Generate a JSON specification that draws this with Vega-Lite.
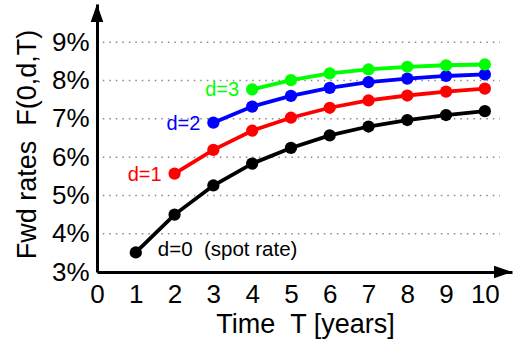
{
  "$schema": "https://vega.github.io/schema/vega-lite/v6.json",
  "width": 415,
  "height": 268,
  "autosize": "none",
  "padding": {"left": 97, "top": 4, "right": 2, "bottom": 69},
  "config": {
    "font": "Liberation Sans",
    "view": {"stroke": null},
    "axis": {"labelFont": "Liberation Sans", "titleFont": "Liberation Sans", "labelColor": "black", "titleColor": "black", "titleFontWeight": "normal"}
  },
  "datasets": {
    "rates": [
      {"d": 0, "T": 1, "F": 3.51, "label": "d=0\u00a0\u00a0(spot rate)"},
      {"d": 0, "T": 2, "F": 4.50},
      {"d": 0, "T": 3, "F": 5.26},
      {"d": 0, "T": 4, "F": 5.83},
      {"d": 0, "T": 5, "F": 6.24},
      {"d": 0, "T": 6, "F": 6.57},
      {"d": 0, "T": 7, "F": 6.80},
      {"d": 0, "T": 8, "F": 6.97},
      {"d": 0, "T": 9, "F": 7.10},
      {"d": 0, "T": 10, "F": 7.20},
      {"d": 1, "T": 2, "F": 5.57, "label": "d=1"},
      {"d": 1, "T": 3, "F": 6.19},
      {"d": 1, "T": 4, "F": 6.69},
      {"d": 1, "T": 5, "F": 7.03},
      {"d": 1, "T": 6, "F": 7.29},
      {"d": 1, "T": 7, "F": 7.48},
      {"d": 1, "T": 8, "F": 7.61},
      {"d": 1, "T": 9, "F": 7.71},
      {"d": 1, "T": 10, "F": 7.79},
      {"d": 2, "T": 3, "F": 6.90, "label": "d=2"},
      {"d": 2, "T": 4, "F": 7.32},
      {"d": 2, "T": 5, "F": 7.60},
      {"d": 2, "T": 6, "F": 7.81},
      {"d": 2, "T": 7, "F": 7.96},
      {"d": 2, "T": 8, "F": 8.05},
      {"d": 2, "T": 9, "F": 8.12},
      {"d": 2, "T": 10, "F": 8.16},
      {"d": 3, "T": 4, "F": 7.77, "label": "d=3"},
      {"d": 3, "T": 5, "F": 8.01},
      {"d": 3, "T": 6, "F": 8.19},
      {"d": 3, "T": 7, "F": 8.29},
      {"d": 3, "T": 8, "F": 8.36},
      {"d": 3, "T": 9, "F": 8.40},
      {"d": 3, "T": 10, "F": 8.42}
    ]
  },
  "layer": [
    {
      "data": {"values": [{"g": 4}, {"g": 5}, {"g": 6}, {"g": 7}, {"g": 8}, {"g": 9}]},
      "mark": {"type": "rule", "color": "#888888", "strokeWidth": 1.5, "strokeDash": [1.5, 5]},
      "encoding": {
        "y": {
          "field": "g", "type": "quantitative",
          "scale": {"domain": [3, 10], "nice": false, "zero": false},
          "axis": {
            "values": [3, 4, 5, 6, 7, 8, 9],
            "ticks": false, "tickSize": 0, "grid": false, "labelFlush": false,
            "domainColor": "black", "domainWidth": 3,
            "labelFontSize": 26, "labelPadding": 8,
            "labelExpr": "datum.value + '%'",
            "title": "Fwd rates\u00a0\u00a0F(0,d,T)",
            "titleFontSize": 27, "titleX": -62, "titleY": 140,
            "titleAngle": -90, "titleBaseline": "alphabetic", "titleAlign": "center"
          }
        },
        "x": {
          "datum": 0.15, "type": "quantitative",
          "scale": {"domain": [0, 10.7], "nice": false, "zero": false},
          "axis": {
            "values": [0, 1, 2, 3, 4, 5, 6, 7, 8, 9, 10],
            "ticks": false, "tickSize": 0, "grid": false, "labelFlush": false,
            "domainColor": "black", "domainWidth": 3,
            "labelFontSize": 26, "labelPadding": 9,
            "title": "Time\u00a0\u00a0T [years]",
            "titleFontSize": 27, "titleX": 208, "titleY": 60,
            "titleBaseline": "alphabetic", "titleAlign": "center"
          }
        },
        "x2": {"datum": 10.39}
      }
    },
    {
      "data": {"name": "rates"},
      "mark": {"type": "line", "strokeWidth": 3.8, "point": {"filled": true, "size": 150, "opacity": 1}},
      "encoding": {
        "x": {"field": "T", "type": "quantitative"},
        "y": {"field": "F", "type": "quantitative"},
        "color": {"field": "d", "type": "nominal", "scale": {"domain": [0, 1, 2, 3], "range": ["#000000", "#ff0000", "#0000ff", "#00ff00"]}, "legend": null},
        "order": {"field": "T", "type": "quantitative"}
      }
    },
    {
      "data": {"name": "rates"},
      "transform": [{"filter": "isValid(datum.label) && datum.d > 0"}],
      "mark": {"type": "text", "align": "right", "baseline": "middle", "dx": -13, "dy": 1, "fontSize": 20},
      "encoding": {
        "x": {"field": "T", "type": "quantitative"},
        "y": {"field": "F", "type": "quantitative"},
        "text": {"field": "label"},
        "color": {"field": "d", "type": "nominal", "scale": {"domain": [0, 1, 2, 3], "range": ["#000000", "#ff0000", "#0000ff", "#00ff00"]}, "legend": null}
      }
    },
    {
      "data": {"name": "rates"},
      "transform": [{"filter": "isValid(datum.label) && datum.d == 0"}],
      "mark": {"type": "text", "align": "left", "baseline": "alphabetic", "dx": 22, "dy": 4, "fontSize": 20.5, "color": "black"},
      "encoding": {
        "x": {"field": "T", "type": "quantitative"},
        "y": {"field": "F", "type": "quantitative"},
        "text": {"field": "label"}
      }
    },
    {
      "data": {"values": [{}]},
      "mark": {"type": "point", "filled": true, "opacity": 1, "color": "black", "size": 324, "shape": "M-0.7,1L0,-1L0.7,1Z"},
      "encoding": {
        "x": {"datum": 0, "type": "quantitative"},
        "y": {"datum": 9.765, "type": "quantitative"}
      }
    },
    {
      "data": {"values": [{}]},
      "mark": {"type": "point", "filled": true, "opacity": 1, "color": "black", "size": 324, "shape": "M-1,-0.7L1,0L-1,0.7Z"},
      "encoding": {
        "x": {"datum": 10.468, "type": "quantitative"},
        "y": {"datum": 3, "type": "quantitative"}
      }
    }
  ]
}
